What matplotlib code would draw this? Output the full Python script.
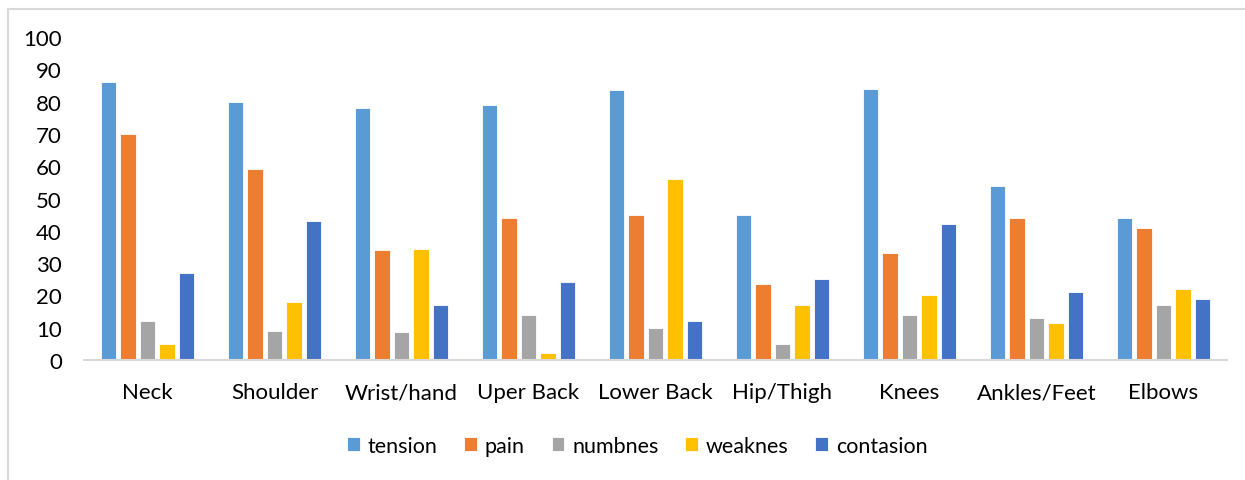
import numpy as np
import matplotlib.pyplot as plt
from matplotlib.patches import Rectangle

plt.rcParams['font.family'] = ['Lato', 'DejaVu Sans']

regions = ["Neck", "Shoulder", "Wrist/hand", "Uper Back", "Lower Back",
           "Hip/Thigh", "Knees", "Ankles/Feet", "Elbows"]

tension = [86, 80, 78, 79, 83.5, 45, 84, 54, 44]
pain = [70, 59, 34, 44, 45, 23.5, 33, 44, 41]
numbnes = [12, 9, 8.7, 14, 10, 5, 14, 13, 17]
weaknes = [5, 18, 34.5, 2.2, 56, 17, 20, 11.5, 22]
contasion = [27, 43, 17, 24, 12, 25, 42, 21, 19]

series = [
    ("tension", tension, "#5b9bd5"),
    ("pain", pain, "#ed7d31"),
    ("numbnes", numbnes, "#a5a5a5"),
    ("weaknes", weaknes, "#ffc000"),
    ("contasion", contasion, "#4472c4"),
]

fig = plt.figure(figsize=(12.45, 4.81), dpi=100)
ax = fig.add_axes([84 / 1245, 1 - 361 / 481, (1227 - 84) / 1245, (361 - 38) / 481])

x = np.arange(len(regions))
pitch = 0.154
width = 0.122
for i, (name, vals, color) in enumerate(series):
    ax.bar(x + (i - 2) * pitch, vals, width, color=color, label=name,
           edgecolor="white", linewidth=0.6, zorder=2)

ax.set_xlim(-0.5, len(regions) - 0.5)
ax.set_ylim(0, 100)
ax.set_yticks(range(0, 101, 10))
ax.set_xticks(x)
ax.set_xticklabels(regions)
ax.tick_params(axis="both", length=0, labelsize=16, labelcolor="#000000")
ax.tick_params(axis="x", pad=16)
ax.tick_params(axis="y", pad=16)

for side in ["top", "right", "left"]:
    ax.spines[side].set_visible(False)
ax.spines["bottom"].set_color("#d9d9d9")
ax.spines["bottom"].set_linewidth(1.5)

ax.legend(loc="center", bbox_to_anchor=(0.484, -0.265), ncol=5, frameon=False,
          fontsize=15.5, handlelength=0.6, handleheight=0.6, handletextpad=0.35,
          columnspacing=1.25)

# light frame around the chart area
fig.patches.append(Rectangle((8 / 1245, -0.1), 1.2, 1 - 9.5 / 481 + 0.1,
                             transform=fig.transFigure, fill=False,
                             edgecolor="#d9d9d9", linewidth=1.5))

fig.savefig("out.png", dpi=100)
